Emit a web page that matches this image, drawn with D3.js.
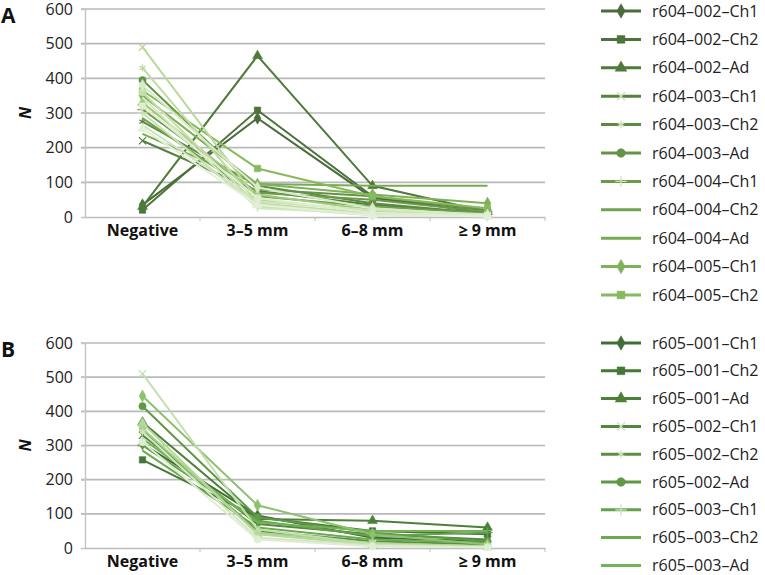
<!DOCTYPE html>
<html>
<head>
<meta charset="utf-8">
<script src="https://cdn.jsdelivr.net/npm/d3@7"></script>
<style>
  body { margin: 0; background: #fff; }
  svg { display: block; font-family: 'Open Sans', sans-serif; }
</style>
</head>
<body>
<div id="chart"></div>
<script>
// Categories and axis ticks
const categories = ["Negative", "3\u20135 mm", "6\u20138 mm", "\u2265 9 mm"];
const yTicks = [0, 100, 200, 300, 400, 500, 600];

// Panel A series (values per category)
const namesA = [
    "r604\u2013002\u2013Ch1", "r604\u2013002\u2013Ch2", "r604\u2013002\u2013Ad",
    "r604\u2013003\u2013Ch1", "r604\u2013003\u2013Ch2", "r604\u2013003\u2013Ad",
    "r604\u2013004\u2013Ch1", "r604\u2013004\u2013Ch2", "r604\u2013004\u2013Ad",
    "r604\u2013005\u2013Ch1", "r604\u2013005\u2013Ch2", "r604\u2013005\u2013Ad",
    "r604\u2013006\u2013Ch1", "r604\u2013006\u2013Ch2", "r604\u2013006\u2013Ad",
    "r604\u2013007\u2013Ch1", "r604\u2013007\u2013Ch2", "r604\u2013007\u2013Ad",
    "r604\u2013008\u2013Ch1", "r604\u2013008\u2013Ch2", "r604\u2013008\u2013Ad"
];
const valuesA = [
    [35, 285, 55, 15],
    [20, 308, 60, 10],
    [30, 465, 90, 15],
    [220, 75, 35, 10],
    [275, 90, 40, 10],
    [395, 80, 60, 20],
    [310, 70, 50, 15],
    [285, 60, 30, 10],
    [240, 95, 90, 90],
    [350, 95, 65, 40],
    [365, 140, 60, 25],
    [330, 65, 20, 5],
    [490, 50, 15, 5],
    [430, 40, 10, 3],
    [360, 35, 8, 3],
    [300, 30, 5, 2],
    [265, 45, 20, 8],
    [345, 25, 10, 5],
    [380, 85, 25, 5],
    [320, 55, 12, 4],
    [255, 35, 5, 2]
];

// Panel B series
const namesB = [
    "r605\u2013001\u2013Ch1", "r605\u2013001\u2013Ch2", "r605\u2013001\u2013Ad",
    "r605\u2013002\u2013Ch1", "r605\u2013002\u2013Ch2", "r605\u2013002\u2013Ad",
    "r605\u2013003\u2013Ch1", "r605\u2013003\u2013Ch2", "r605\u2013003\u2013Ad",
    "r605\u2013004\u2013Ch1", "r605\u2013004\u2013Ch2", "r605\u2013004\u2013Ad",
    "r605\u2013005\u2013Ch1", "r605\u2013005\u2013Ch2", "r605\u2013005\u2013Ad"
];
const valuesB = [
    [305, 95, 30, 20],
    [258, 90, 50, 40],
    [368, 85, 80, 60],
    [330, 70, 40, 25],
    [345, 50, 20, 10],
    [415, 90, 45, 20],
    [300, 80, 35, 45],
    [285, 60, 25, 15],
    [320, 75, 50, 50],
    [445, 125, 40, 10],
    [350, 45, 15, 5],
    [365, 40, 10, 5],
    [510, 55, 12, 3],
    [340, 30, 8, 2],
    [310, 25, 5, 2]
];

// Excel-like marker cycle
const markerCycle = [
    { type: d3.symbolDiamond, fill: true },
    { type: d3.symbolSquare, fill: true },
    { type: d3.symbolTriangle, fill: true },
    { type: d3.symbolTimes || d3.symbolX, fill: false },
    { type: d3.symbolAsterisk || d3.symbolCross, fill: false },
    { type: d3.symbolCircle, fill: true },
    { type: d3.symbolPlus || d3.symbolCross, fill: false },
    null,
    null
];

const width = 765, height = 575;
const svg = d3.select("#chart").append("svg")
    .attr("width", width)
    .attr("height", height);

function drawPanel(opts) {
    const { names, values, top, bottom, letter, legendTop, legendStep, legendCount, color } = opts;
    const left = 85, right = 545;

    const x = d3.scaleBand().domain(categories).range([left, right]).padding(0);
    const y = d3.scaleLinear().domain([0, 600]).range([bottom, top]);
    const cx = c => x(c) + x.bandwidth() / 2;

    const g = svg.append("g");

    // Gridlines
    g.selectAll(".grid")
        .data(yTicks.filter(d => d > 0))
        .enter().append("line")
        .attr("x1", left - 4).attr("x2", right)
        .attr("y1", d => y(d)).attr("y2", d => y(d))
        .style("stroke", "#b9b9b9")
        .style("stroke-width", 1.6);

    // Left axis
    const yAxis = g.append("g")
        .attr("transform", `translate(${left},0)`)
        .call(d3.axisLeft(y).tickValues(yTicks).tickSize(4).tickPadding(8));
    yAxis.select(".domain").style("stroke", "#c4c4c4").style("stroke-width", 1.4);
    yAxis.selectAll(".tick line").style("stroke", "#c4c4c4");
    yAxis.selectAll("text")
        .style("font-size", "16px")
        .style("fill", "#222")
        .style("font-family", "'Open Sans', sans-serif");

    // Bottom axis with ticks at band edges
    const xAxis = g.append("g")
        .attr("transform", `translate(0,${bottom})`)
        .call(d3.axisBottom(x).tickSize(0).tickPadding(8));
    xAxis.select(".domain").style("stroke", "#bdbdbd").style("stroke-width", 1.6);
    xAxis.selectAll("text")
        .style("font-size", "16px")
        .style("font-weight", "bold")
        .style("fill", "#111")
        .style("font-family", "'Open Sans', sans-serif");
    xAxis.selectAll(".edge")
        .data(categories)
        .enter().append("line")
        .attr("x1", d => x(d) + x.step()).attr("x2", d => x(d) + x.step())
        .attr("y1", 0).attr("y2", 4)
        .style("stroke", "#bdbdbd");

    // Axis title and panel letter
    g.append("text")
        .attr("transform", `translate(31,${(top + bottom) / 2}) rotate(-90)`)
        .attr("text-anchor", "middle")
        .style("font-size", "16px")
        .style("font-weight", "bold")
        .style("font-style", "italic")
        .style("fill", "#111")
        .text("N");

    g.append("text")
        .attr("x", 1)
        .attr("y", top + 14)
        .style("font-size", "21px")
        .style("font-weight", "bold")
        .style("fill", "#111")
        .text(letter);

    // Series lines and markers
    const line = d3.line()
        .x((d, i) => cx(categories[i]))
        .y(d => y(d));

    const series = g.selectAll(".series")
        .data(values)
        .enter().append("g")
        .attr("class", "series");

    series.append("path")
        .attr("d", d => line(d))
        .style("fill", "none")
        .style("stroke", (d, i) => color(i))
        .style("stroke-width", 2);

    series.each(function (d, i) {
        const m = markerCycle[i % markerCycle.length];
        if (!m) return;
        d3.select(this).selectAll("path.marker")
            .data(d)
            .enter().append("path")
            .attr("class", "marker")
            .attr("transform", (v, j) => `translate(${cx(categories[j])},${y(v)})`)
            .attr("d", d3.symbol().type(m.type).size(m.fill ? 42 : 36))
            .style("fill", m.fill ? color(i) : "none")
            .style("stroke", color(i))
            .style("stroke-width", m.fill ? 0.5 : 1.3);
    });

    // Legend (only the rows that fit, like the original)
    const legend = g.selectAll(".legend")
        .data(names.slice(0, legendCount))
        .enter().append("g")
        .attr("class", "legend")
        .attr("transform", (d, i) => `translate(601,${legendTop + i * legendStep})`);

    legend.append("line")
        .attr("x1", 0).attr("x2", 40)
        .style("stroke", (d, i) => color(i))
        .style("stroke-width", 3);

    legend.each(function (d, i) {
        const m = markerCycle[i % markerCycle.length];
        if (!m) return;
        d3.select(this).append("path")
            .attr("transform", "translate(20,0)")
            .attr("d", d3.symbol().type(m.type).size(m.fill ? 60 : 44))
            .style("fill", m.fill ? color(i) : "none")
            .style("stroke", m.fill ? color(i) : "#cfe0bd")
            .style("stroke-width", m.fill ? 0.5 : 1.3);
    });

    legend.append("text")
        .attr("x", 51)
        .attr("dy", "0.35em")
        .style("font-size", "16px")
        .style("fill", "#222")
        .text(d => d);
}

const colorA = d3.scaleLinear()
    .domain([0, 2, 10, 12, 20])
    .range(["#4a6b3c", "#4f7a3a", "#86ba5c", "#b9d99a", "#e4efd8"]);

const colorB = d3.scaleLinear()
    .domain([0, 2, 8, 10, 14])
    .range(["#3f6e36", "#4a8038", "#73b255", "#a6cf88", "#dfedd2"]);

drawPanel({
    names: namesA, values: valuesA, top: 9, bottom: 217, letter: "A",
    legendTop: 11, legendStep: 28.4, legendCount: 11, color: colorA
});

drawPanel({
    names: namesB, values: valuesB, top: 343, bottom: 548, letter: "B",
    legendTop: 343, legendStep: 27.8, legendCount: 9, color: colorB
});
</script>
</body>
</html>
